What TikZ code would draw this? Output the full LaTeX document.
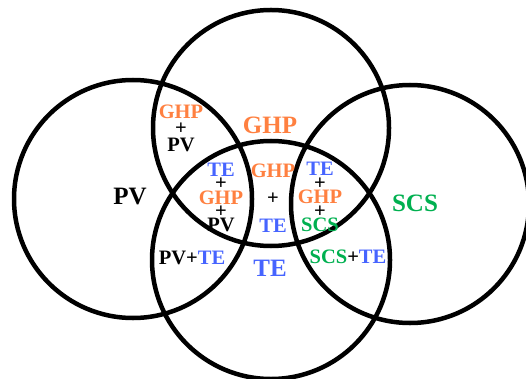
\documentclass[tikz,border=0pt]{standalone}
\usepackage{fontspec}
\setmainfont{Liberation Serif}
\usetikzlibrary{positioning}
\definecolor{ghporange}{RGB}{255,128,64}
\definecolor{teblue}{RGB}{70,100,255}
\definecolor{scsgreen}{RGB}{0,176,80}

\begin{document}
\begin{tikzpicture}[x=1pt,y=-1pt,
    ring/.style={line width=4.5pt},
    biglabel/.style={font=\fontsize{25}{25}\selectfont\bfseries, inner sep=0pt},
    stacklabel/.style={font=\fontsize{20.5}{14}\selectfont\bfseries, align=center, inner sep=0pt}]
\useasboundingbox (0,0) rectangle (526,379);

% Four sets
\draw[ring] (133,199) circle (119);
\draw[ring] (271,128) circle (118);
\draw[ring] (410,204) circle (119);
\draw[ring] (271,260) circle (119);

% Single technologies
\node[biglabel] (pv) at (130,197) {PV};
\node[biglabel, ghporange] (ghp) at (270,125) {GHP};
\node[biglabel, scsgreen] (scs) at (415,203) {SCS};
\node[biglabel, teblue] (te) at (270,268) {TE};

% Pairs
\node[stacklabel, font=\fontsize{20.5}{16.5}\selectfont\bfseries] (ghppv) at (181,128)
    {\textcolor{ghporange}{GHP}\\+\\PV};
\node[stacklabel, font=\fontsize{20.5}{27.5}\selectfont\bfseries] (ghpte) at (273,198)
    {\textcolor{ghporange}{GHP}\\+\\\textcolor{teblue}{TE}};
\node[stacklabel] (pvte) at (192,258) {PV+\textcolor{teblue}{TE}};
\node[stacklabel] (scste) at (348,257) {\textcolor{scsgreen}{SCS}+\textcolor{teblue}{TE}};

% Triples
\node[stacklabel, font=\fontsize{20.5}{13.5}\selectfont\bfseries] (tghppv) at (221,197)
    {\textcolor{teblue}{TE}\\+\\\textcolor{ghporange}{GHP}\\+\\PV};
\node[stacklabel, font=\fontsize{20.5}{13.5}\selectfont\bfseries] (tghpscs) at (320,197)
    {\textcolor{teblue}{TE}\\+\\\textcolor{ghporange}{GHP}\\+\\\textcolor{scsgreen}{SCS}};

\end{tikzpicture}
\end{document}
